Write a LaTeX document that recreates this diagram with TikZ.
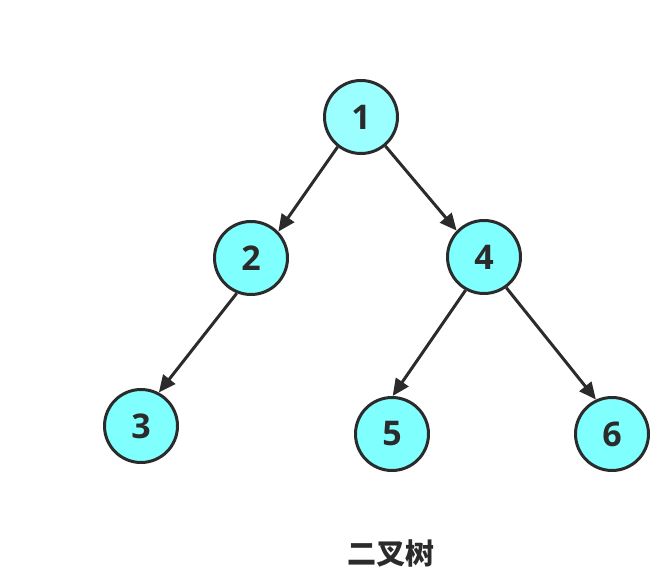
\documentclass[tikz,border=0pt]{standalone}
\usepackage{fontspec}
\setmainfont{Open Sans}
\newfontfamily\cjk{Noto Sans CJK SC}
\usetikzlibrary{arrows.meta}
\definecolor{leaffill}{HTML}{80FFFF}
\definecolor{rootfill}{HTML}{9CFFFF}
\definecolor{edgegray}{HTML}{2B2B2B}
\tikzset{
  vertex/.style={circle,draw=edgegray,line width=3,fill=leaffill,minimum size=73,inner sep=0,
    text=edgegray,font=\fontsize{34}{40}\selectfont\bfseries},
  link/.style={draw=edgegray,line width=3,-{Triangle[length=17,width=15]}}
}
\begin{document}
\begin{tikzpicture}[x=1pt,y=-1pt]
\useasboundingbox (0,0) rectangle (662,588);
\node [vertex,fill=rootfill] at(361,117)(1) {1};
\node [vertex] at(251,258)(2) {2};
\node [vertex] at(484,257)(4) {4};
\node [vertex] at(141,426)(3) {3};
\node [vertex] at(392,434)(5) {5};
\node [vertex] at(612,434)(6) {6};
\node [text=edgegray,font=\cjk\fontsize{29}{33}\selectfont\bfseries] at(391,553)(cap) {二叉树};
\draw [link] (1.232)--(2.44);
\draw [link] (1.310)--(4.136);
\draw [link] (2.248)--(3.62);
\draw [link] (4.241)--(5.89);
\draw [link] (4.306)--(6.115);
\end{tikzpicture}
\end{document}
